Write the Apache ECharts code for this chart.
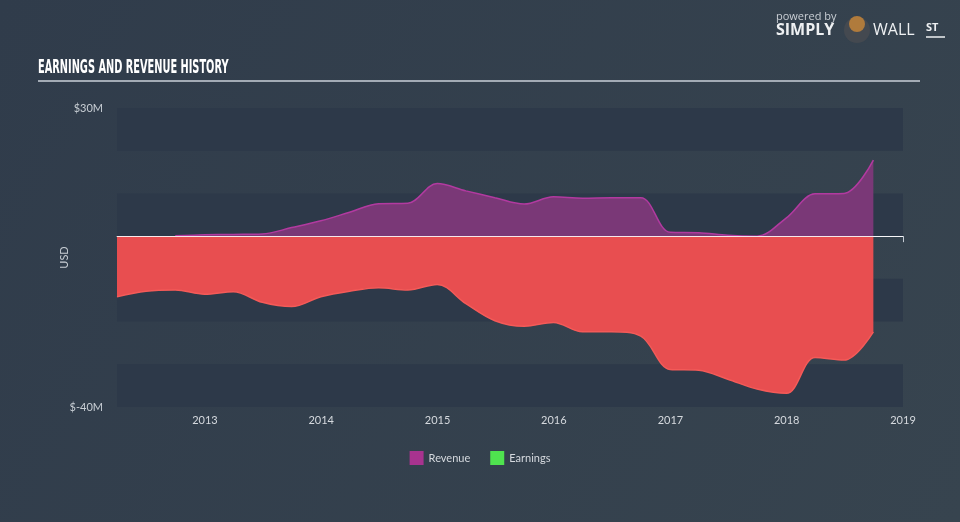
<!DOCTYPE html>
<html>
<head>
<meta charset="utf-8">
<script src="https://cdn.jsdelivr.net/npm/echarts@6/dist/echarts.min.js"></script>
<style>
  html, body { margin: 0; padding: 0; background: #333f4f; }
  #chart { width: 960px; height: 522px; }
</style>
</head>
<body>
<div id="chart"></div>
<script>
// quarterly data, values in $M
const dates = [
  '2012-03-31', '2012-06-30', '2012-09-30', '2012-12-31',
  '2013-03-31', '2013-06-30', '2013-09-30', '2013-12-31',
  '2014-03-31', '2014-06-30', '2014-09-30', '2014-12-31',
  '2015-03-31', '2015-06-30', '2015-09-30', '2015-12-31',
  '2016-03-31', '2016-06-30', '2016-09-30', '2016-12-31',
  '2017-03-31', '2017-06-30', '2017-09-30', '2017-12-31',
  '2018-03-31', '2018-06-30', '2018-09-30'
]
const revenue = [
  null, null, 0.1, 0.3,
  0.4, 0.5, 2.0, 3.6,
  5.6, 7.6, 7.7, 12.3,
  10.6, 9.0, 7.5, 9.2,
  8.9, 9.0, 9.0, 0.9,
  0.8, 0.2, 0.0, 4.3,
  9.9, 10.0, 17.8
]
const earnings = [
  -14.2, -12.9, -12.6, -13.6,
  -13.0, -15.5, -16.5, -14.2,
  -12.9, -12.1, -12.6, -11.3,
  -15.8, -19.8, -21.1, -20.2,
  -22.4, -22.4, -23.4, -31.2,
  -31.4, -33.5, -35.8, -36.8,
  -28.4, -29.0, -22.4
]
const legendNames = ['Revenue', 'Earnings']

const chart = echarts.init(document.getElementById('chart'))

const pair = (arr) => dates.map((d, i) => [d, arr[i]])

const option = {
  backgroundColor: new echarts.graphic.LinearGradient(0, 0, 1, 1, [
    { offset: 0, color: '#303c4b' },
    { offset: 1, color: '#37444f' }
  ]),
  animation: false,
  grid: { left: 117, right: 57, top: 108, bottom: 115 },
  legend: {
    bottom: 52,
    left: 'center',
    icon: 'rect',
    itemWidth: 14,
    itemHeight: 14,
    itemGap: 20,
    textStyle: { color: '#d5d9de', fontSize: 11, fontFamily: 'Lato' },
    data: [
      { name: legendNames[0], itemStyle: { color: '#a8338f' } },
      { name: legendNames[1], itemStyle: { color: '#4fe34f' } }
    ]
  },
  xAxis: {
    type: 'time',
    min: '2012-03-31',
    max: '2019-01-01',
    minInterval: 365 * 86400000,
    maxInterval: 366 * 86400000,
    axisLine: { lineStyle: { color: '#c3cad3', width: 1 } },
    axisTick: { show: true, length: 6, lineStyle: { color: '#c3cad3' } },
    axisLabel: {
      color: '#d5d9de',
      fontSize: 11,
      fontFamily: 'Lato',
      margin: 8,
      showMaxLabel: true,
      formatter: (v) => String(new Date(v).getFullYear())
    },
    splitLine: { show: false }
  },
  yAxis: {
    type: 'value',
    min: -40,
    max: 30,
    interval: 10,
    name: 'USD',
    nameLocation: 'middle',
    nameRotate: 90,
    nameGap: 47,
    nameMoveOverlap: false,
    nameTextStyle: { color: '#c8ced4', fontSize: 11, fontFamily: 'Lato' },
    axisLine: { show: false },
    axisTick: { show: false },
    axisLabel: {
      color: '#c8ced4',
      fontSize: 11,
      fontFamily: 'Lato',
      margin: 14,
      formatter: (v) => (v === 30 || v === -40) ? '$' + v + 'M' : ''
    },
    splitLine: { show: false },
    splitArea: { show: true, areaStyle: { color: ['#2d3949', 'rgba(0,0,0,0)'] } }
  },
  graphic: [
    {
      type: 'text', x: 38, y: 68, scaleX: 0.49,
      style: {
        text: 'EARNINGS AND REVENUE HISTORY', fill: '#ffffff',
        font: 'bold 20px "DejaVu Sans"', verticalAlign: 'middle'
      }
    },
    { type: 'line', shape: { x1: 38, y1: 81, x2: 920, y2: 81 }, style: { stroke: '#a3abb5', lineWidth: 2 } },
    {
      type: 'text', left: 776, top: 11,
      style: { text: 'powered by', fill: '#c9ced4', font: '11px "Open Sans"' }
    },
    {
      type: 'text', left: 776, top: 22,
      style: { text: 'SIMPLY', fill: '#eef0f2', font: 'bold 16px "Open Sans"' }
    },
    { type: 'circle', shape: { cx: 857, cy: 30, r: 13 }, style: { fill: '#444950' } },
    { type: 'circle', shape: { cx: 857, cy: 24, r: 8 }, style: { fill: '#b07b3c' } },
    {
      type: 'text', left: 873, top: 22,
      style: { text: 'WALL', fill: '#eef0f2', font: '16px "Open Sans"' }
    },
    {
      type: 'text', left: 926, top: 22,
      style: { text: 'ST', fill: '#eef0f2', font: 'bold 11px "Open Sans"' }
    },
    { type: 'line', shape: { x1: 926, y1: 37, x2: 945, y2: 37 }, style: { stroke: '#eef0f2', lineWidth: 1.5 } }
  ],
  series: [
    {
      name: legendNames[1],
      type: 'line',
      data: pair(earnings),
      smooth: 0.35,
      showSymbol: false,
      lineStyle: { color: '#f45a58', width: 1.5 },
      itemStyle: { color: '#e84e50' },
      areaStyle: { color: '#e84e50', opacity: 1 },
      markLine: {
        silent: true,
        symbol: 'none',
        label: { show: false },
        lineStyle: { color: '#ffffff', width: 1, type: 'solid', opacity: 0.85 },
        data: [{ yAxis: 0 }]
      },
      z: 2
    },
    {
      name: legendNames[0],
      type: 'line',
      data: pair(revenue),
      smooth: 0.35,
      showSymbol: false,
      lineStyle: { color: '#b23aa0', width: 1.5 },
      itemStyle: { color: '#a8338f' },
      areaStyle: { color: '#7a3877', opacity: 1 },
      z: 3
    }
  ]
}

chart.setOption(option)
</script>
</body>
</html>
